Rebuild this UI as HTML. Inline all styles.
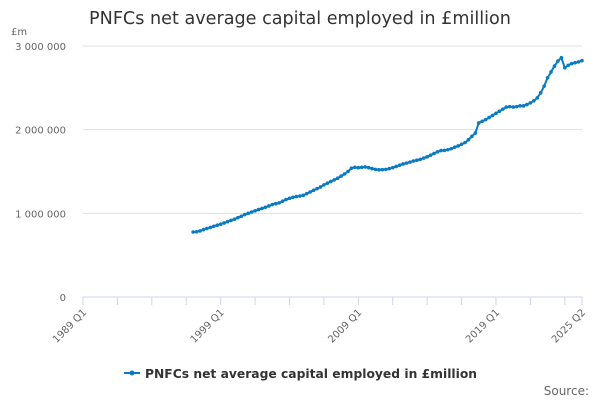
<!DOCTYPE html>
<html><head><meta charset="utf-8"><style>
body{margin:0;background:#fff;font-family:"DejaVu Sans",sans-serif;}
svg text{font-family:"DejaVu Sans",sans-serif;}
</style></head><body>
<svg id="c" width="600" height="400">
<text x="300" y="24" text-anchor="middle" font-size="17.6" fill="#333">PNFCs net average capital employed in £million</text>
<text x="11" y="35" font-size="10" fill="#666">£m</text>
<g id="grid"></g><g id="xax"></g><g id="series"></g>
<g>
<line x1="124" y1="373" x2="140" y2="373" stroke="#0a7ac2" stroke-width="2"/>
<circle cx="132" cy="373" r="2.5" fill="#0a7ac2"/>
<text x="145" y="378" font-size="12.3" font-weight="bold" fill="#333">PNFCs net average capital employed in £million</text>
</g>
<text x="589" y="395" text-anchor="end" font-size="12" fill="#666">Source:</text>
</svg>
<script>
const yTicks=[0,1000000,2000000,3000000];
const yTickLabels=["0","1 000 000","2 000 000","3 000 000"];
const xLabelIdx=[0,40,80,120,145];
const xLabels=["1989 Q1","1999 Q1","2009 Q1","2019 Q1","2025 Q2"];
const startIdx=32; // 1997 Q1
const values=[777,780,790,805,818,832,845,858,870,885,900,915,930,948,965,985,1000,1015,1030,1045,1058,1072,1088,1105,1115,1125,1145,1165,1180,1192,1200,1207,1215,1235,1255,1275,1295,1315,1340,1360,1380,1400,1420,1445,1470,1500,1540,1550,1545,1550,1555,1545,1535,1525,1520,1522,1525,1535,1545,1560,1575,1590,1600,1612,1625,1635,1645,1660,1675,1695,1715,1735,1750,1752,1760,1772,1790,1805,1825,1845,1880,1920,1960,2080,2100,2120,2145,2170,2195,2220,2245,2270,2275,2270,2275,2285,2285,2300,2320,2345,2380,2440,2520,2620,2690,2760,2820,2860,2740,2770,2790,2800,2810,2825];
const NS="http://www.w3.org/2000/svg";
const x0=83,x1=582,y0=297,y1=46;
const xs=i=>x0+(x1-x0)*i/145;
const ys=v=>y0-(y0-y1)*v/3000000;
function mk(t,a,p){const e=document.createElementNS(NS,t);for(const k in a)e.setAttribute(k,a[k]);p.appendChild(e);return e;}
const grid=document.getElementById('grid'),xax=document.getElementById('xax'),ser=document.getElementById('series');
yTicks.forEach((v,i)=>{
 if(v>0){const l=mk('line',{x1:x0,x2:x1,y1:ys(v),y2:ys(v),stroke:'#e0e0e0'},grid);
 
 }
 const t=mk('text',{x:66,y:ys(v)+4,'text-anchor':'end','font-size':10,fill:'#666'},grid);
 t.textContent=yTickLabels[i];
 
 
});
const ax=mk('line',{x1:x0,x2:x1,y1:y0,y2:y0,stroke:'#ccd6eb'},xax);


for(let i=0;i<=145;i+=10){const tk=mk('line',{x1:xs(i),x2:xs(i),y1:y0,y2:y0+8,stroke:'#ccd6eb'},xax);
 
 }
mk('line',{x1:xs(145),x2:xs(145),y1:y0,y2:y0+8,stroke:'#ccd6eb'},xax);
xLabelIdx.forEach((q,i)=>{
 const x=xs(q),y=y0+12;
 const t=mk('text',{x:x+4,y:y+4,'text-anchor':'end','font-size':10,fill:'#666',transform:`rotate(-45 ${x+4} ${y+4})`},xax);
 t.textContent=xLabels[i];
 
 
});
const pts=values.map((v,i)=>[xs(startIdx+i),ys(v*1000)]);
const pl=mk('polyline',{points:pts.map(p=>p.join(',')).join(' '),fill:'none',stroke:'#0a7ac2','stroke-width':2},ser);


pts.forEach(p=>{const c=mk('circle',{cx:p[0],cy:p[1],r:1.8,fill:'#0a7ac2'},ser);
 
 });
</script>
</body></html>
